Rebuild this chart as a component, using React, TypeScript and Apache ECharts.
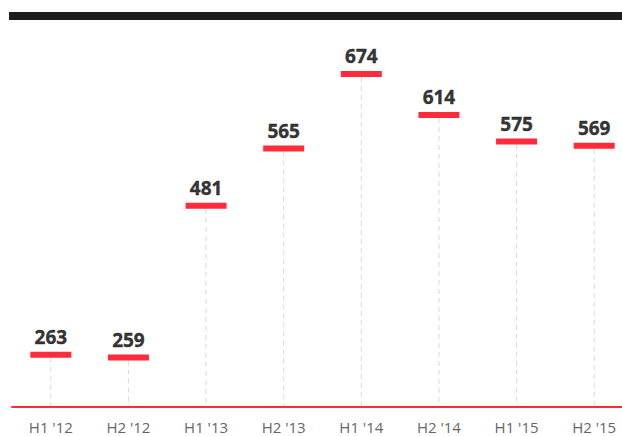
import React, { useEffect, useRef } from "react";
import * as echarts from "echarts";

const categories = ["H1 '12", "H2 '12", "H1 '13", "H2 '13", "H1 '14", "H2 '14", "H1 '15", "H2 '15"];
const values = [263, 259, 481, 565, 674, 614, 575, 569];

const Y_MIN = 186.5;
const Y_MAX = 751.5;
const RED = "#ff2b3a";

export default function App() {
  const ref = useRef<HTMLDivElement>(null);
  useEffect(() => {
    if (!ref.current) return;
    const chart = echarts.init(ref.current, undefined, { renderer: "svg" });
    chart.setOption({
      animation: false,
      grid: { left: 12, top: 21, width: 621, bottom: 29, containLabel: false, outerBoundsMode: "none" },
      graphic: [
        {
          type: "rect",
          shape: { x: 9, y: 12, width: 620, height: 8 },
          style: { fill: "#1d1d1b" },
          z: 10,
        },
      ],
      xAxis: {
        type: "category",
        data: categories,
        axisLine: { show: true, lineStyle: { color: RED, width: 2 } },
        axisTick: { show: false },
        axisLabel: { color: "#666", fontFamily: "Open Sans", fontSize: 15, margin: 12 },
        splitLine: { show: false },
      },
      yAxis: {
        type: "value",
        min: Y_MIN,
        max: Y_MAX,
        show: false,
        splitLine: { show: false },
      },
      series: [
        {
          type: "custom",
          data: values.map((v, i) => [i, v]),
          renderItem: (params: any, api: any) => {
            const i = api.value(0);
            const v = api.value(1);
            const top = api.coord([i, v]);
            const base = api.coord([i, Y_MIN]);
            return {
              type: "group",
              children: [
                {
                  type: "line",
                  shape: { x1: top[0], y1: top[1] + 3, x2: base[0], y2: base[1] - 1 },
                  style: { stroke: "#d9d9d9", lineWidth: 1, lineDash: [5, 4] },
                },
                {
                  type: "rect",
                  shape: { x: top[0] - 20.5, y: top[1] - 3, width: 41, height: 6 },
                  style: { fill: RED },
                },
              ],
            };
          },
          z: 2,
        },
        {
          type: "scatter",
          data: values.map((v, i) => [i, v]),
          symbolSize: 0,
          itemStyle: { color: "transparent" },
          label: {
            show: true,
            position: "top",
            distance: 8,
            formatter: (p: any) => String(p.value[1]),
            color: "#000",
            fontFamily: "Open Sans",
            fontWeight: "bold",
            fontSize: 19,
            textBorderColor: "#000",
            textBorderWidth: 0.4,
          },
          z: 3,
        },
      ],
    });
    return () => chart.dispose();
  }, []);
  return (
    <div
      ref={ref}
      style={{ position: "fixed", left: 0, top: 0, width: 622, height: 436, background: "#fff" }}
    />
  );
}
